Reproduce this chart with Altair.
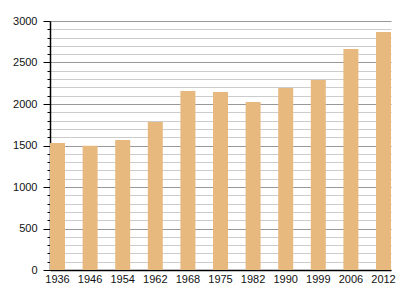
import altair as alt
import pandas as pd

years = ["1936", "1946", "1954", "1962", "1968", "1975", "1982", "1990", "1999", "2006", "2012"]
population = [1530, 1497, 1566, 1783, 2157, 2145, 2024, 2193, 2289, 2663, 2867]
y_ticks = list(range(0, 3001, 100))

df = pd.DataFrame({"year": years, "pop": population})

chart = alt.Chart(df).mark_bar(color="#e8b97f").encode(
    x=alt.X("year:N", sort=None, title=None,
            scale=alt.Scale(paddingInner=0.54, paddingOuter=0.0),
            axis=alt.Axis(labelAngle=0, ticks=False, domainColor="#000000",
                          labelColor="#111111", labelFont="Liberation Sans",
                          labelFontSize=11, labelPadding=3)),
    y=alt.Y("pop:Q", title=None,
            scale=alt.Scale(domain=[0, 3000], nice=False),
            axis=alt.Axis(values=y_ticks,
                          labelExpr="datum.value % 500 === 0 ? datum.label : ''",
                          format="d",
                          grid=True,
                          gridColor=alt.condition("datum.value % 500 === 0", alt.value("#999999"), alt.value("#cccccc")),
                          gridWidth=1,
                          tickColor="#000000",
                          tickSize=alt.condition("datum.value % 500 === 0", alt.value(7), alt.value(3)),
                          domainColor="#000000",
                          labelColor="#111111", labelFont="Liberation Sans",
                          labelFontSize=11, labelPadding=6)),
).properties(
    width=341, height=249,
    autosize=alt.AutoSizeParams(type="none"),
    padding={"left": 50, "top": 21, "right": 9, "bottom": 30},
).configure_view(stroke=None).configure_axis(domainWidth=1.5)

chart.save("out.html", embed_options={"renderer": "svg", "actions": False})
